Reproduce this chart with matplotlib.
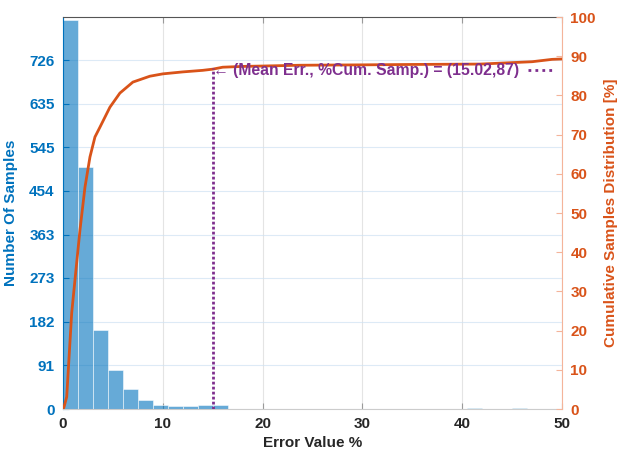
import numpy as np
import matplotlib
matplotlib.use("Agg")
import matplotlib.pyplot as plt
from matplotlib.lines import Line2D

plt.rcParams["font.family"] = ["Liberation Sans", "DejaVu Sans"]
plt.rcParams["font.weight"] = "bold"
plt.rcParams["axes.labelweight"] = "bold"

# histogram (bin width 1.5 %)
bin_edges = np.arange(0, 51.5, 1.5)
counts = [809, 503, 164, 81, 41, 18, 8, 6, 6, 8, 8, 0,
          1, 1, 1, 1, 0, 1, 1, 0, 1, 1, 0, 0,
          1, 1, 0, 3, 1, 1, 3, 0, 1, 0]

# cumulative distribution (%)
cum_x = [0, 0.1, 0.37, 0.53, 0.87, 1.2, 1.53, 1.7, 2.2, 2.7, 3.2, 3.7, 4.7,
         5.7, 7.0, 8.7, 10.0, 12.0, 14.0, 15.0, 16.0, 18.0, 20.0, 23.7,
         30.0, 35.0, 41.8, 47.0, 49.0, 50.0]
cum_y = [0, 0.5, 3.1, 10, 24.5, 33, 41.4, 45.7, 56.6, 64.3, 69.4, 71.9, 77.0,
         80.6, 83.4, 84.9, 85.5, 86.0, 86.4, 86.7, 87.2, 87.4, 87.5, 87.7,
         87.8, 87.9, 88.0, 88.6, 89.2, 89.3]

mean_err = 15.02
mean_cum = 87

left_ticks = [0, 91, 182, 273, 363, 454, 545, 635, 726]
right_ticks = list(range(0, 101, 10))
x_ticks = [0, 10, 20, 30, 40, 50]

BLUE = "#0072BD"
ORANGE = "#D95319"
PURPLE = "#7E2F8E"
DARK = "#262626"

fig = plt.figure(figsize=(6.19, 4.59), dpi=100)
ax = fig.add_axes([0.1018, 0.1089, 0.8062, 0.854])

ax.bar(bin_edges[:-1], counts, width=1.5, align="edge", color=BLUE, alpha=0.6,
       edgecolor="white", linewidth=0.6, zorder=2)
ax.set_xlim(0, 50)
ax.set_ylim(0, 816)
ax.set_yticks(left_ticks)
ax.set_yticklabels([str(t) for t in left_ticks])
ax.set_xticks(x_ticks)
ax.tick_params(axis="y", colors=BLUE, labelsize=11, direction="in", length=4,
               right=True, pad=6)
ax.tick_params(axis="x", colors="#9a9a9a", labelcolor=DARK, labelsize=11,
               direction="in", length=4, top=True, pad=6)
ax.grid(axis="y", color="#cfe2f3", linewidth=0.8, alpha=0.7, zorder=0)
ax.grid(axis="x", color="#d9d9d9", linewidth=0.8, alpha=0.7, zorder=0)
ax.set_axisbelow(True)
ax.set_xlabel("Error Value %", fontsize=11, color=DARK, labelpad=3)
ax.set_ylabel("Number Of Samples", fontsize=11, color=BLUE, labelpad=8)
ax.spines["top"].set_color("#555555")
ax.spines["bottom"].set_color("#cccccc")
ax.spines["left"].set_color(BLUE)
ax.spines["right"].set_visible(False)

ax2 = ax.twinx()
ax2.plot(cum_x, cum_y, color=ORANGE, linewidth=2, zorder=3)
ax2.set_ylim(0, 100)
ax2.set_yticks(right_ticks)
ax2.tick_params(axis="y", colors="#f4b49a", labelcolor=ORANGE, labelsize=11,
                direction="in", length=4, pad=6)
ax2.set_ylabel("Cumulative Samples Distribution [%]", fontsize=11,
               color=ORANGE, labelpad=6)
for s in ["top", "bottom", "left"]:
    ax2.spines[s].set_visible(False)
ax2.spines["right"].set_color("#f4b49a")

ax2.plot([mean_err, mean_err], [0, mean_cum], color=PURPLE,
         linestyle=(0, (1, 0.8)), linewidth=2, zorder=4)
ax2.annotate("\u2190 (Mean Err., %Cum. Samp.) = (15.02,87)",
             xy=(mean_err, mean_cum), xytext=(0, -1.5),
             textcoords="offset points", color=PURPLE, fontsize=11.3,
             fontweight="bold", ha="left", va="center", zorder=5)
handle = Line2D([], [], color=PURPLE, linestyle=(0, (1, 1.5)), linewidth=2)
ax2.legend([handle], [""], loc="upper right", bbox_to_anchor=(1.005, 0.912),
           frameon=False, handlelength=1.7, handletextpad=0, fontsize=10)

fig.savefig("out.png", dpi=100)
